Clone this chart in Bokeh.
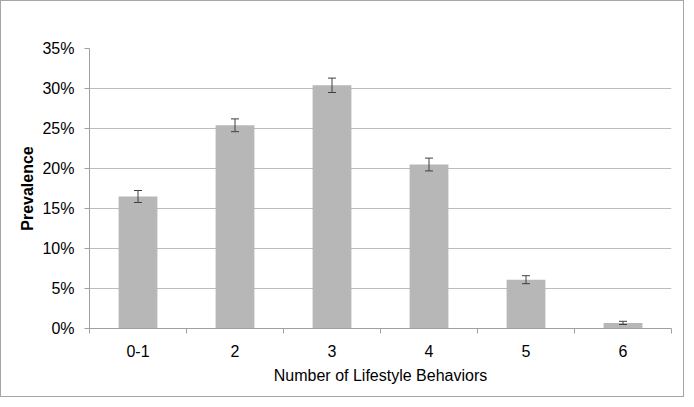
from bokeh.plotting import figure
from bokeh.models import FixedTicker, PrintfTickFormatter, ColumnDataSource, Whisker, TeeHead
from bokeh.embed import file_html
from bokeh.resources import INLINE

categories = ["0-1", "2", "3", "4", "5", "6"]
prevalence = [16.5, 25.4, 30.4, 20.5, 6.1, 0.7]
error = [0.75, 0.8, 0.9, 0.8, 0.5, 0.2]
y_ticks = [0, 5, 10, 15, 20, 25, 30, 35]

pos = [i + 0.5 for i in range(len(categories))]
bounds = list(range(len(categories) + 1))

src = ColumnDataSource(dict(
    x=pos, top=prevalence,
    upper=[v + e for v, e in zip(prevalence, error)],
    lower=[v - e for v, e in zip(prevalence, error)],
))

p = figure(width=684, height=397, output_backend="svg", toolbar_location=None,
           x_range=(0, len(categories)), y_range=(0, 35),
           min_border_left=88, min_border_right=14, min_border_top=47, min_border_bottom=70)
p.styles = {"border": "1px solid #a6a6a6"}
p.outline_line_color = None
p.background_fill_color = "white"
p.border_fill_color = "white"

p.vbar(x="x", top="top", width=0.4, source=src, fill_color="#b7b7b7", line_color=None)
w = Whisker(base="x", upper="upper", lower="lower", source=src, level="annotation",
            line_color="#404040", line_width=1,
            upper_head=TeeHead(size=8, line_color="#404040", line_width=1),
            lower_head=TeeHead(size=8, line_color="#404040", line_width=1))
p.add_layout(w)

# x axis
p.xaxis.ticker = FixedTicker(ticks=pos, minor_ticks=bounds)
p.xaxis.major_label_overrides = {v: c for v, c in zip(pos, categories)}
p.xaxis.major_tick_out = 0
p.xaxis.major_tick_in = 0
p.xaxis.minor_tick_out = 5
p.xaxis.minor_tick_in = 0
p.xaxis.minor_tick_line_color = "#a0a0a0"
p.xaxis.axis_line_color = "#a0a0a0"
p.xaxis.major_label_standoff = 11
p.xaxis.axis_label = "Number of Lifestyle Behaviors"
p.xaxis.axis_label_standoff = 7
p.xgrid.grid_line_color = None

# y axis
p.yaxis.ticker = FixedTicker(ticks=y_ticks, minor_ticks=[])
p.yaxis.formatter = PrintfTickFormatter(format="%d%%")
p.yaxis.major_tick_out = 5
p.yaxis.major_tick_in = 0
p.yaxis.major_tick_line_color = "#a0a0a0"
p.yaxis.axis_line_color = "#a0a0a0"
p.yaxis.major_label_standoff = 10
p.yaxis.axis_label = "Prevalence"
p.yaxis.axis_label_standoff = 3
p.ygrid.grid_line_color = "#bcbcbc"
p.ygrid.ticker = FixedTicker(ticks=y_ticks)

for ax in (p.xaxis, p.yaxis):
    ax.major_label_text_font = "Liberation Sans"
    ax.major_label_text_font_size = "16px"
    ax.major_label_text_color = "#000000"
    ax.axis_label_text_font = "Liberation Sans"
    ax.axis_label_text_font_size = "16px"
    ax.axis_label_text_color = "#000000"

p.yaxis.axis_label_text_font_style = "bold"
p.xaxis.axis_label_text_font_style = "normal"

open("out.html", "w").write(file_html(p, INLINE))
